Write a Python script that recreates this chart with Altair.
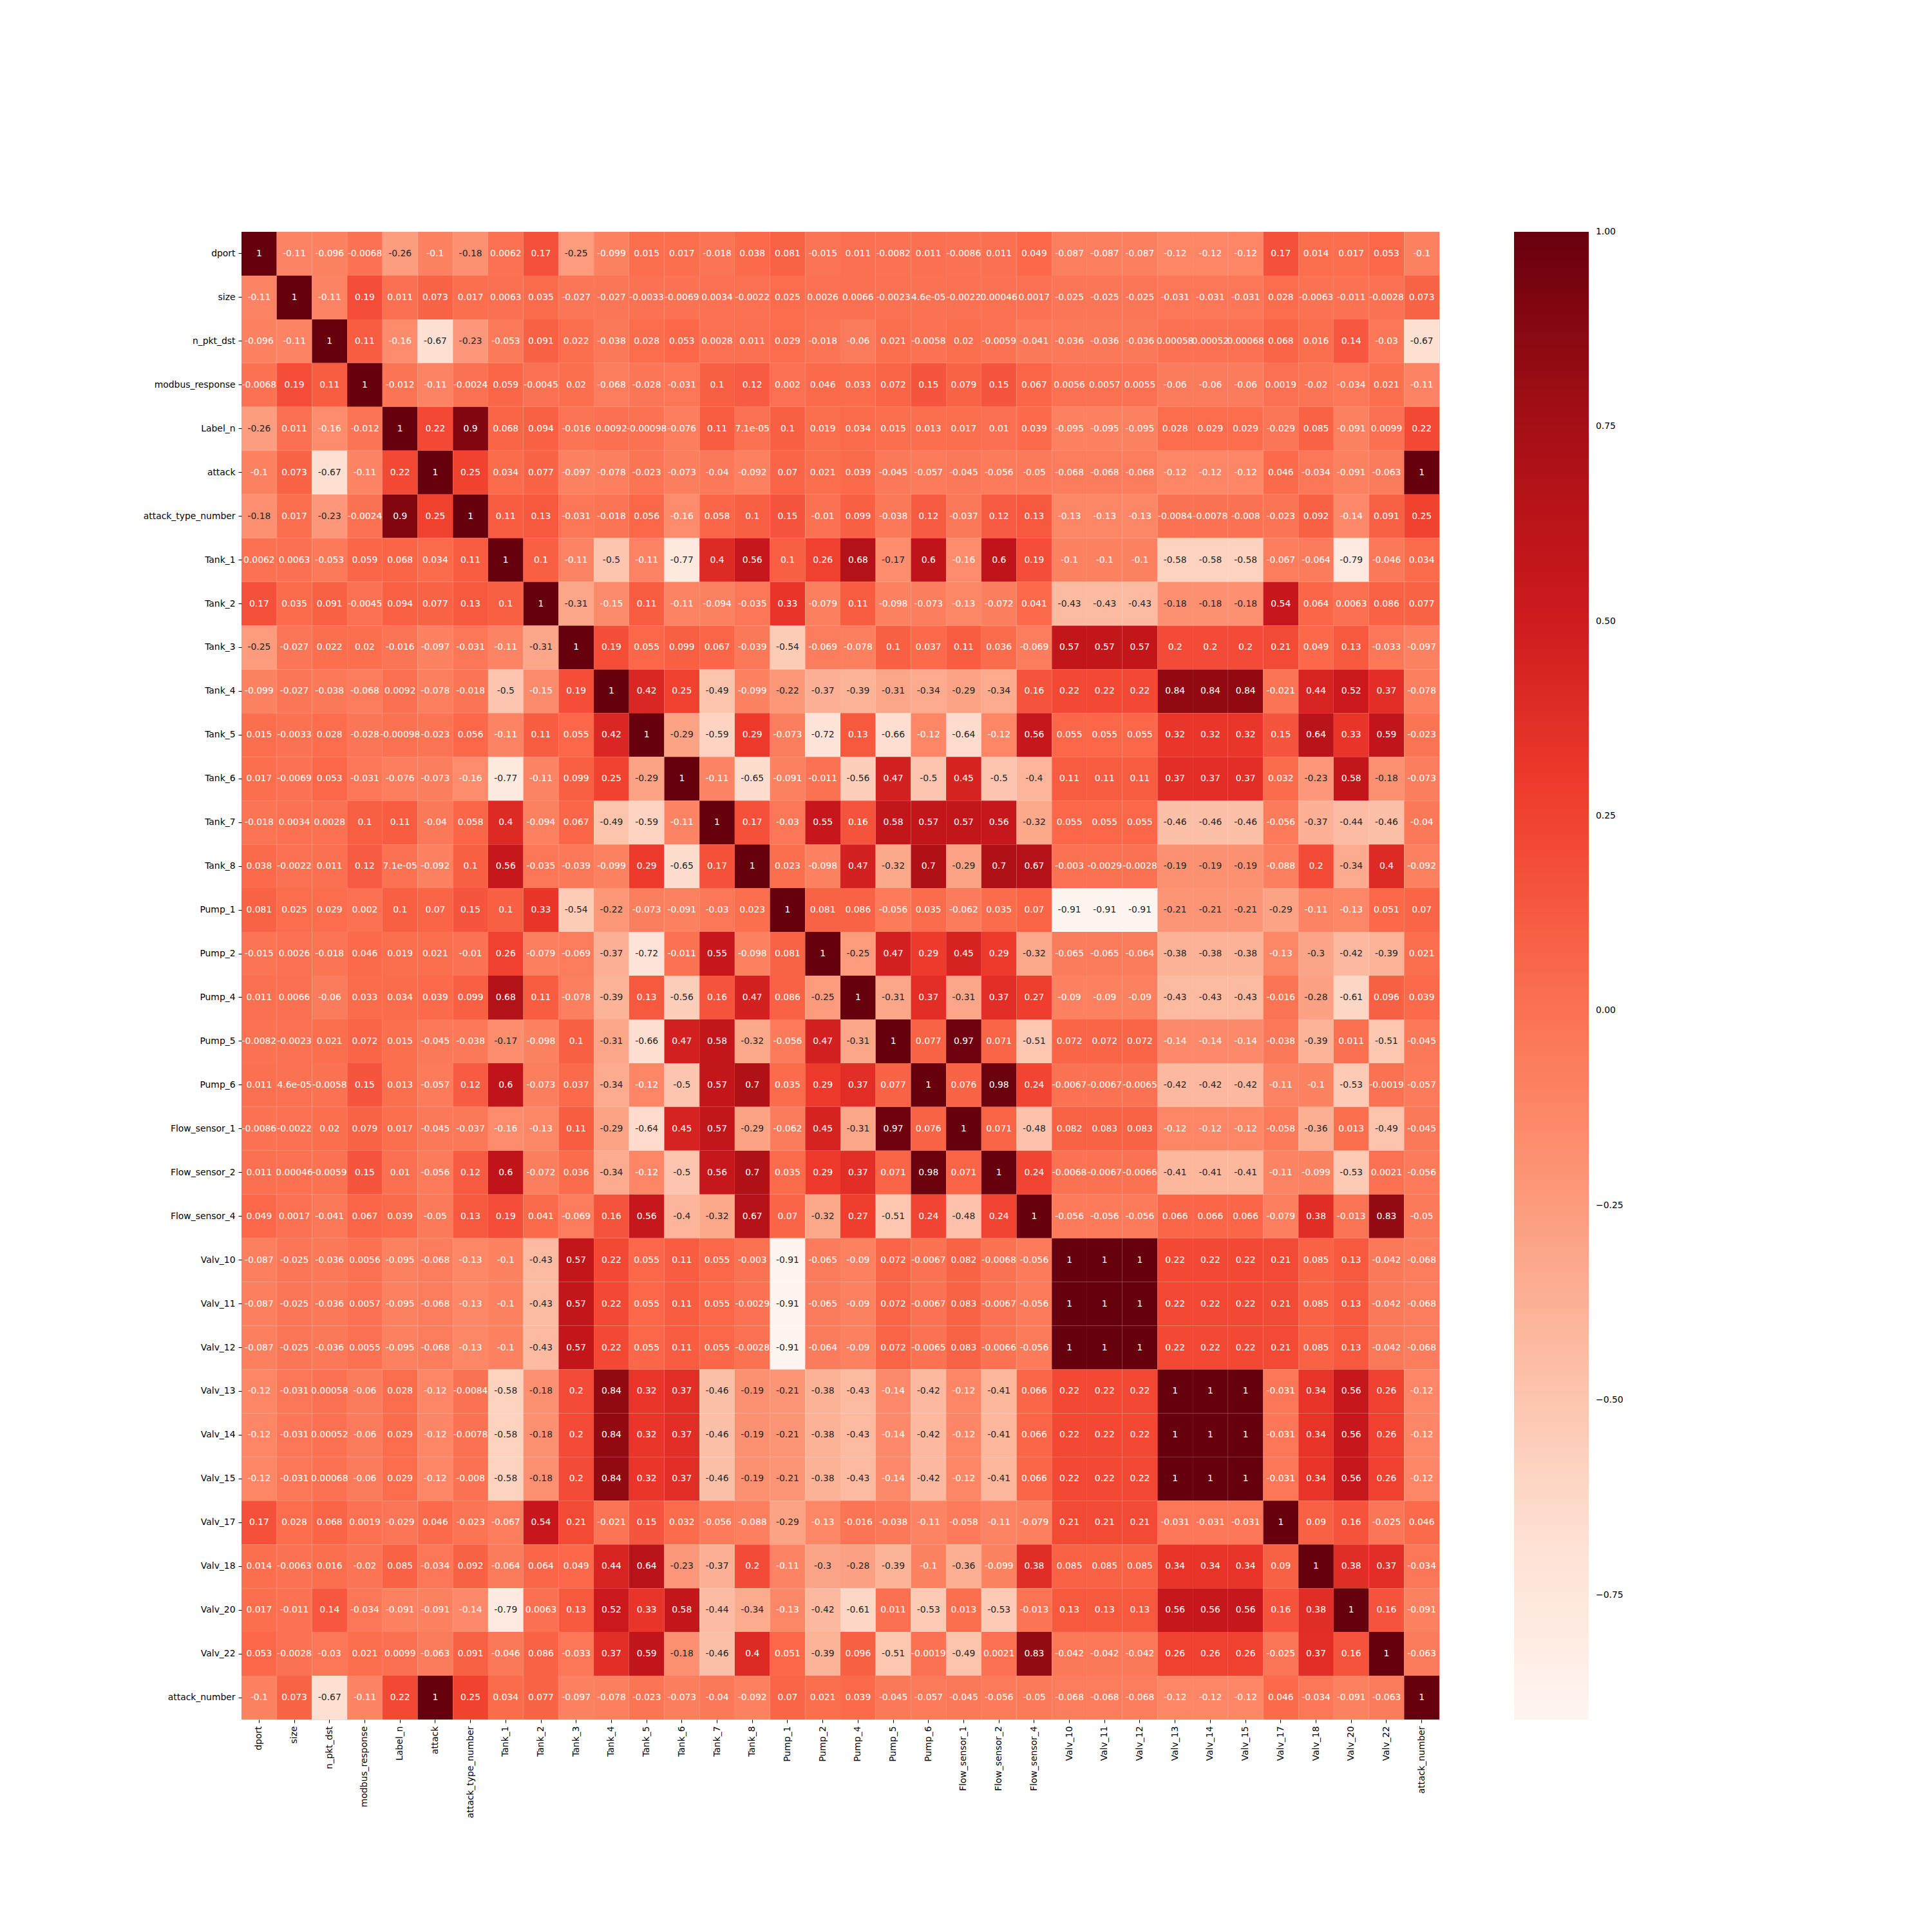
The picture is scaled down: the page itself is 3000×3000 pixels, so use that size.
import altair as alt
import pandas as pd

names = ["dport", "size", "n_pkt_dst", "modbus_response", "Label_n", "attack",
         "attack_type_number", "Tank_1", "Tank_2", "Tank_3", "Tank_4", "Tank_5",
         "Tank_6", "Tank_7", "Tank_8", "Pump_1", "Pump_2", "Pump_4", "Pump_5",
         "Pump_6", "Flow_sensor_1", "Flow_sensor_2", "Flow_sensor_4", "Valv_10",
         "Valv_11", "Valv_12", "Valv_13", "Valv_14", "Valv_15", "Valv_17",
         "Valv_18", "Valv_20", "Valv_22", "attack_number"]

r_dport = [1, -0.11, -0.096, -0.0068, -0.26, -0.1, -0.18, 0.0062, 0.17, -0.25, -0.099, 0.015, 0.017, -0.018, 0.038, 0.081, -0.015, 0.011, -0.0082, 0.011, -0.0086, 0.011, 0.049, -0.087, -0.087, -0.087, -0.12, -0.12, -0.12, 0.17, 0.014, 0.017, 0.053, -0.1]
r_size = [-0.11, 1, -0.11, 0.19, 0.011, 0.073, 0.017, 0.0063, 0.035, -0.027, -0.027, -0.0033, -0.0069, 0.0034, -0.0022, 0.025, 0.0026, 0.0066, -0.0023, 4.6e-05, -0.0022, 0.00046, 0.0017, -0.025, -0.025, -0.025, -0.031, -0.031, -0.031, 0.028, -0.0063, -0.011, -0.0028, 0.073]
r_npkt = [-0.096, -0.11, 1, 0.11, -0.16, -0.67, -0.23, -0.053, 0.091, 0.022, -0.038, 0.028, 0.053, 0.0028, 0.011, 0.029, -0.018, -0.06, 0.021, -0.0058, 0.02, -0.0059, -0.041, -0.036, -0.036, -0.036, 0.00058, 0.00052, 0.00068, 0.068, 0.016, 0.14, -0.03, -0.67]
r_modbus = [-0.0068, 0.19, 0.11, 1, -0.012, -0.11, -0.0024, 0.059, -0.0045, 0.02, -0.068, -0.028, -0.031, 0.1, 0.12, 0.002, 0.046, 0.033, 0.072, 0.15, 0.079, 0.15, 0.067, 0.0056, 0.0057, 0.0055, -0.06, -0.06, -0.06, 0.0019, -0.02, -0.034, 0.021, -0.11]
r_label = [-0.26, 0.011, -0.16, -0.012, 1, 0.22, 0.9, 0.068, 0.094, -0.016, 0.0092, -0.00098, -0.076, 0.11, 7.1e-05, 0.1, 0.019, 0.034, 0.015, 0.013, 0.017, 0.01, 0.039, -0.095, -0.095, -0.095, 0.028, 0.029, 0.029, -0.029, 0.085, -0.091, 0.0099, 0.22]
r_attack = [-0.1, 0.073, -0.67, -0.11, 0.22, 1, 0.25, 0.034, 0.077, -0.097, -0.078, -0.023, -0.073, -0.04, -0.092, 0.07, 0.021, 0.039, -0.045, -0.057, -0.045, -0.056, -0.05, -0.068, -0.068, -0.068, -0.12, -0.12, -0.12, 0.046, -0.034, -0.091, -0.063, 1]
r_atype = [-0.18, 0.017, -0.23, -0.0024, 0.9, 0.25, 1, 0.11, 0.13, -0.031, -0.018, 0.056, -0.16, 0.058, 0.1, 0.15, -0.01, 0.099, -0.038, 0.12, -0.037, 0.12, 0.13, -0.13, -0.13, -0.13, -0.0084, -0.0078, -0.008, -0.023, 0.092, -0.14, 0.091, 0.25]
r_tank1 = [0.0062, 0.0063, -0.053, 0.059, 0.068, 0.034, 0.11, 1, 0.1, -0.11, -0.5, -0.11, -0.77, 0.4, 0.56, 0.1, 0.26, 0.68, -0.17, 0.6, -0.16, 0.6, 0.19, -0.1, -0.1, -0.1, -0.58, -0.58, -0.58, -0.067, -0.064, -0.79, -0.046, 0.034]
r_tank2 = [0.17, 0.035, 0.091, -0.0045, 0.094, 0.077, 0.13, 0.1, 1, -0.31, -0.15, 0.11, -0.11, -0.094, -0.035, 0.33, -0.079, 0.11, -0.098, -0.073, -0.13, -0.072, 0.041, -0.43, -0.43, -0.43, -0.18, -0.18, -0.18, 0.54, 0.064, 0.0063, 0.086, 0.077]
r_tank3 = [-0.25, -0.027, 0.022, 0.02, -0.016, -0.097, -0.031, -0.11, -0.31, 1, 0.19, 0.055, 0.099, 0.067, -0.039, -0.54, -0.069, -0.078, 0.1, 0.037, 0.11, 0.036, -0.069, 0.57, 0.57, 0.57, 0.2, 0.2, 0.2, 0.21, 0.049, 0.13, -0.033, -0.097]
r_tank4 = [-0.099, -0.027, -0.038, -0.068, 0.0092, -0.078, -0.018, -0.5, -0.15, 0.19, 1, 0.42, 0.25, -0.49, -0.099, -0.22, -0.37, -0.39, -0.31, -0.34, -0.29, -0.34, 0.16, 0.22, 0.22, 0.22, 0.84, 0.84, 0.84, -0.021, 0.44, 0.52, 0.37, -0.078]
r_tank5 = [0.015, -0.0033, 0.028, -0.028, -0.00098, -0.023, 0.056, -0.11, 0.11, 0.055, 0.42, 1, -0.29, -0.59, 0.29, -0.073, -0.72, 0.13, -0.66, -0.12, -0.64, -0.12, 0.56, 0.055, 0.055, 0.055, 0.32, 0.32, 0.32, 0.15, 0.64, 0.33, 0.59, -0.023]
r_tank6 = [0.017, -0.0069, 0.053, -0.031, -0.076, -0.073, -0.16, -0.77, -0.11, 0.099, 0.25, -0.29, 1, -0.11, -0.65, -0.091, -0.011, -0.56, 0.47, -0.5, 0.45, -0.5, -0.4, 0.11, 0.11, 0.11, 0.37, 0.37, 0.37, 0.032, -0.23, 0.58, -0.18, -0.073]
r_tank7 = [-0.018, 0.0034, 0.0028, 0.1, 0.11, -0.04, 0.058, 0.4, -0.094, 0.067, -0.49, -0.59, -0.11, 1, 0.17, -0.03, 0.55, 0.16, 0.58, 0.57, 0.57, 0.56, -0.32, 0.055, 0.055, 0.055, -0.46, -0.46, -0.46, -0.056, -0.37, -0.44, -0.46, -0.04]
r_tank8 = [0.038, -0.0022, 0.011, 0.12, 7.1e-05, -0.092, 0.1, 0.56, -0.035, -0.039, -0.099, 0.29, -0.65, 0.17, 1, 0.023, -0.098, 0.47, -0.32, 0.7, -0.29, 0.7, 0.67, -0.003, -0.0029, -0.0028, -0.19, -0.19, -0.19, -0.088, 0.2, -0.34, 0.4, -0.092]
r_pump1 = [0.081, 0.025, 0.029, 0.002, 0.1, 0.07, 0.15, 0.1, 0.33, -0.54, -0.22, -0.073, -0.091, -0.03, 0.023, 1, 0.081, 0.086, -0.056, 0.035, -0.062, 0.035, 0.07, -0.91, -0.91, -0.91, -0.21, -0.21, -0.21, -0.29, -0.11, -0.13, 0.051, 0.07]
r_pump2 = [-0.015, 0.0026, -0.018, 0.046, 0.019, 0.021, -0.01, 0.26, -0.079, -0.069, -0.37, -0.72, -0.011, 0.55, -0.098, 0.081, 1, -0.25, 0.47, 0.29, 0.45, 0.29, -0.32, -0.065, -0.065, -0.064, -0.38, -0.38, -0.38, -0.13, -0.3, -0.42, -0.39, 0.021]
r_pump4 = [0.011, 0.0066, -0.06, 0.033, 0.034, 0.039, 0.099, 0.68, 0.11, -0.078, -0.39, 0.13, -0.56, 0.16, 0.47, 0.086, -0.25, 1, -0.31, 0.37, -0.31, 0.37, 0.27, -0.09, -0.09, -0.09, -0.43, -0.43, -0.43, -0.016, -0.28, -0.61, 0.096, 0.039]
r_pump5 = [-0.0082, -0.0023, 0.021, 0.072, 0.015, -0.045, -0.038, -0.17, -0.098, 0.1, -0.31, -0.66, 0.47, 0.58, -0.32, -0.056, 0.47, -0.31, 1, 0.077, 0.97, 0.071, -0.51, 0.072, 0.072, 0.072, -0.14, -0.14, -0.14, -0.038, -0.39, 0.011, -0.51, -0.045]
r_pump6 = [0.011, 4.6e-05, -0.0058, 0.15, 0.013, -0.057, 0.12, 0.6, -0.073, 0.037, -0.34, -0.12, -0.5, 0.57, 0.7, 0.035, 0.29, 0.37, 0.077, 1, 0.076, 0.98, 0.24, -0.0067, -0.0067, -0.0065, -0.42, -0.42, -0.42, -0.11, -0.1, -0.53, -0.0019, -0.057]
r_flow1 = [-0.0086, -0.0022, 0.02, 0.079, 0.017, -0.045, -0.037, -0.16, -0.13, 0.11, -0.29, -0.64, 0.45, 0.57, -0.29, -0.062, 0.45, -0.31, 0.97, 0.076, 1, 0.071, -0.48, 0.082, 0.083, 0.083, -0.12, -0.12, -0.12, -0.058, -0.36, 0.013, -0.49, -0.045]
r_flow2 = [0.011, 0.00046, -0.0059, 0.15, 0.01, -0.056, 0.12, 0.6, -0.072, 0.036, -0.34, -0.12, -0.5, 0.56, 0.7, 0.035, 0.29, 0.37, 0.071, 0.98, 0.071, 1, 0.24, -0.0068, -0.0067, -0.0066, -0.41, -0.41, -0.41, -0.11, -0.099, -0.53, 0.0021, -0.056]
r_flow4 = [0.049, 0.0017, -0.041, 0.067, 0.039, -0.05, 0.13, 0.19, 0.041, -0.069, 0.16, 0.56, -0.4, -0.32, 0.67, 0.07, -0.32, 0.27, -0.51, 0.24, -0.48, 0.24, 1, -0.056, -0.056, -0.056, 0.066, 0.066, 0.066, -0.079, 0.38, -0.013, 0.83, -0.05]
r_valv10 = [-0.087, -0.025, -0.036, 0.0056, -0.095, -0.068, -0.13, -0.1, -0.43, 0.57, 0.22, 0.055, 0.11, 0.055, -0.003, -0.91, -0.065, -0.09, 0.072, -0.0067, 0.082, -0.0068, -0.056, 1, 1, 1, 0.22, 0.22, 0.22, 0.21, 0.085, 0.13, -0.042, -0.068]
r_valv11 = [-0.087, -0.025, -0.036, 0.0057, -0.095, -0.068, -0.13, -0.1, -0.43, 0.57, 0.22, 0.055, 0.11, 0.055, -0.0029, -0.91, -0.065, -0.09, 0.072, -0.0067, 0.083, -0.0067, -0.056, 1, 1, 1, 0.22, 0.22, 0.22, 0.21, 0.085, 0.13, -0.042, -0.068]
r_valv12 = [-0.087, -0.025, -0.036, 0.0055, -0.095, -0.068, -0.13, -0.1, -0.43, 0.57, 0.22, 0.055, 0.11, 0.055, -0.0028, -0.91, -0.064, -0.09, 0.072, -0.0065, 0.083, -0.0066, -0.056, 1, 1, 1, 0.22, 0.22, 0.22, 0.21, 0.085, 0.13, -0.042, -0.068]
r_valv13 = [-0.12, -0.031, 0.00058, -0.06, 0.028, -0.12, -0.0084, -0.58, -0.18, 0.2, 0.84, 0.32, 0.37, -0.46, -0.19, -0.21, -0.38, -0.43, -0.14, -0.42, -0.12, -0.41, 0.066, 0.22, 0.22, 0.22, 1, 1, 1, -0.031, 0.34, 0.56, 0.26, -0.12]
r_valv14 = [-0.12, -0.031, 0.00052, -0.06, 0.029, -0.12, -0.0078, -0.58, -0.18, 0.2, 0.84, 0.32, 0.37, -0.46, -0.19, -0.21, -0.38, -0.43, -0.14, -0.42, -0.12, -0.41, 0.066, 0.22, 0.22, 0.22, 1, 1, 1, -0.031, 0.34, 0.56, 0.26, -0.12]
r_valv15 = [-0.12, -0.031, 0.00068, -0.06, 0.029, -0.12, -0.008, -0.58, -0.18, 0.2, 0.84, 0.32, 0.37, -0.46, -0.19, -0.21, -0.38, -0.43, -0.14, -0.42, -0.12, -0.41, 0.066, 0.22, 0.22, 0.22, 1, 1, 1, -0.031, 0.34, 0.56, 0.26, -0.12]
r_valv17 = [0.17, 0.028, 0.068, 0.0019, -0.029, 0.046, -0.023, -0.067, 0.54, 0.21, -0.021, 0.15, 0.032, -0.056, -0.088, -0.29, -0.13, -0.016, -0.038, -0.11, -0.058, -0.11, -0.079, 0.21, 0.21, 0.21, -0.031, -0.031, -0.031, 1, 0.09, 0.16, -0.025, 0.046]
r_valv18 = [0.014, -0.0063, 0.016, -0.02, 0.085, -0.034, 0.092, -0.064, 0.064, 0.049, 0.44, 0.64, -0.23, -0.37, 0.2, -0.11, -0.3, -0.28, -0.39, -0.1, -0.36, -0.099, 0.38, 0.085, 0.085, 0.085, 0.34, 0.34, 0.34, 0.09, 1, 0.38, 0.37, -0.034]
r_valv20 = [0.017, -0.011, 0.14, -0.034, -0.091, -0.091, -0.14, -0.79, 0.0063, 0.13, 0.52, 0.33, 0.58, -0.44, -0.34, -0.13, -0.42, -0.61, 0.011, -0.53, 0.013, -0.53, -0.013, 0.13, 0.13, 0.13, 0.56, 0.56, 0.56, 0.16, 0.38, 1, 0.16, -0.091]
r_valv22 = [0.053, -0.0028, -0.03, 0.021, 0.0099, -0.063, 0.091, -0.046, 0.086, -0.033, 0.37, 0.59, -0.18, -0.46, 0.4, 0.051, -0.39, 0.096, -0.51, -0.0019, -0.49, 0.0021, 0.83, -0.042, -0.042, -0.042, 0.26, 0.26, 0.26, -0.025, 0.37, 0.16, 1, -0.063]
r_attnum = [-0.1, 0.073, -0.67, -0.11, 0.22, 1, 0.25, 0.034, 0.077, -0.097, -0.078, -0.023, -0.073, -0.04, -0.092, 0.07, 0.021, 0.039, -0.045, -0.057, -0.045, -0.056, -0.05, -0.068, -0.068, -0.068, -0.12, -0.12, -0.12, 0.046, -0.034, -0.091, -0.063, 1]

matrix = [r_dport, r_size, r_npkt, r_modbus, r_label, r_attack, r_atype,
          r_tank1, r_tank2, r_tank3, r_tank4, r_tank5, r_tank6, r_tank7, r_tank8,
          r_pump1, r_pump2, r_pump4, r_pump5, r_pump6,
          r_flow1, r_flow2, r_flow4,
          r_valv10, r_valv11, r_valv12, r_valv13, r_valv14, r_valv15,
          r_valv17, r_valv18, r_valv20, r_valv22, r_attnum]

colorbar_ticks = [-0.75, -0.5, -0.25, 0.0, 0.25, 0.5, 0.75, 1.0]
reds = ["#fff5f0", "#fee0d2", "#fcbba1", "#fc9272", "#fb6a4a",
        "#ef3b2c", "#cb181d", "#a50f15", "#67000d"]
vmin, vmax = -0.91, 1.0001

records = []
for i, rname in enumerate(names):
    for j, cname in enumerate(names):
        v = matrix[i][j]
        records.append({
            "row": rname,
            "col": cname,
            "value": v,
            "label": format(v, ".2g"),
            "tc": "#262626" if v < -0.165 else "#ffffff",
        })
df = pd.DataFrame(records)

n = len(reds)
stops = [vmin + (vmax - vmin) * k / (n - 1) for k in range(n)]

FONT = "DejaVu Sans"
FS = 13.9

x_enc = alt.X("col:N", sort=names, scale=alt.Scale(paddingInner=0, paddingOuter=0),
              axis=alt.Axis(title=None, orient="bottom", labelAngle=270, labelFont=FONT,
                            labelFontSize=FS, labelColor="black", tickColor="black",
                            tickSize=5, tickWidth=1.1, labelPadding=5, domain=False,
                            grid=False, labelOverlap=False))
y_enc = alt.Y("row:N", sort=names, scale=alt.Scale(paddingInner=0, paddingOuter=0),
              axis=alt.Axis(title=None, orient="left", labelFont=FONT,
                            labelFontSize=FS, labelColor="black", tickColor="black",
                            tickSize=5, tickWidth=1.1, labelPadding=5, domain=False,
                            grid=False, labelOverlap=False))

rects = alt.Chart(df).mark_rect(strokeWidth=0).encode(
    x=x_enc,
    y=y_enc,
    color=alt.Color(
        "value:Q",
        scale=alt.Scale(domain=stops, range=reds, interpolate="rgb", clamp=True),
        legend=alt.Legend(
            title=None, orient="right", direction="vertical", offset=116,
            gradientLength=2310, gradientThickness=116, gradientStrokeWidth=0,
            values=colorbar_ticks, format=".2f", labelFont=FONT, labelFontSize=FS,
            labelColor="black", labelOffset=11, padding=0,
        ),
    ),
)

texts = alt.Chart(df).mark_text(font=FONT, fontSize=FS, align="center", baseline="middle").encode(
    x=alt.X("col:N", sort=names),
    y=alt.Y("row:N", sort=names),
    text="label:N",
    fill=alt.Fill("tc:N", scale=None),
)

chart = alt.layer(rects, texts).properties(
    width=1860,
    height=2310,
    padding={"left": 375, "top": 360, "right": 765, "bottom": 330},
    autosize=alt.AutoSizeParams(type="none"),
).configure_view(strokeWidth=0).configure(background="white")

chart.save("out.html", embed_options={"renderer": "svg", "actions": False})
